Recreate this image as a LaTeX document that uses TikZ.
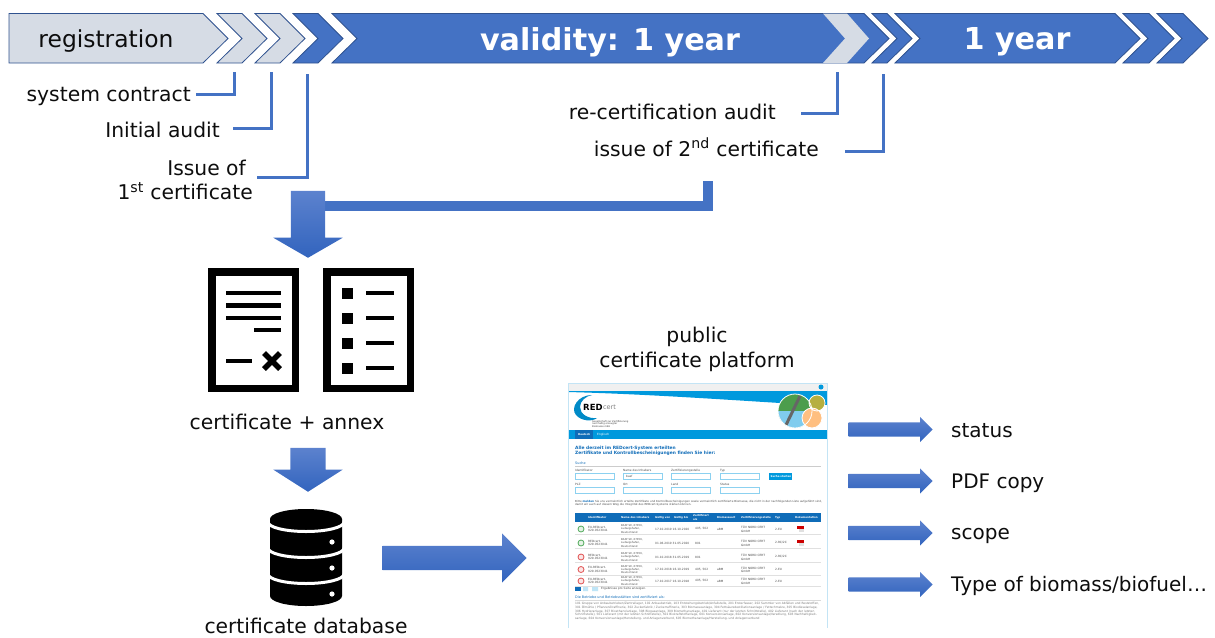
\documentclass[tikz,border=0pt]{standalone}
\usepackage{fontspec}
\setmainfont{DejaVu Sans}
\usetikzlibrary{shapes.arrows, positioning}
\definecolor{blue1}{RGB}{68, 114, 196}
\definecolor{blue2}{RGB}{47, 82, 143}
\definecolor{blue3}{RGB}{92, 130, 206}
\definecolor{blue4}{RGB}{50, 100, 190}
\definecolor{light1}{RGB}{214, 220, 229}
\definecolor{sky1}{RGB}{0, 153, 221}
\definecolor{navy1}{RGB}{15, 108, 184}
\definecolor{rim1}{RGB}{195, 228, 245}
\definecolor{grey1}{RGB}{120, 120, 120}
\definecolor{okay1}{RGB}{80, 170, 90}
\definecolor{stop1}{RGB}{225, 80, 80}
\newcommand{\fs}[1]{\fontsize{#1}{\dimexpr#1pt*6/5\relax}\selectfont}

\begin{document}
\begin{tikzpicture}[x=1pt, y=-1pt,
    chev/.style={draw=blue2, line width=0.8pt, fill=blue1},
    elbow/.style={draw=blue1, line width=3pt},
    lbl/.style={inner sep=0pt, font=\fs{20.3}, text=black!95},
    bigw/.style={inner sep=0pt, font=\fs{30.2}\bfseries, text=white},
    blockarrow/.style={single arrow, draw=none, top color=blue3, bottom color=blue4, anchor=tip},
    doc/.style={draw=black, line width=7.5pt, fill=white},
    stroke/.style={draw=black, line width=4.5pt},
    web/.style={inner sep=0pt, anchor=west, font=\fs{2.9}, text=black!70},
    webb/.style={inner sep=0pt, anchor=west, font=\fs{2.6}\bfseries, text=white},
    field/.style={draw=sky1!45, line width=0.7pt, fill=white}]
    \useasboundingbox (0,0) rectangle (1215,637);

    \draw[chev, fill=light1] (9,13.5) -- (203,13.5) -- (228,38.5) -- (203,63) -- (9,63) -- cycle;
    \foreach \xa/\xb/\col in {217/242/light1, 255/280/light1, 293/318/blue1, 332/864/blue1, 872/887/blue1, 895/1115/blue1, 1123/1149/blue1, 1157/1183/blue1}
        \draw[chev, fill=\col] (\xa,13.5) -- (\xb,13.5) -- ++(25,25) -- (\xb,63) -- (\xa,63) -- ++(25,-24.5) -- cycle;
    \draw[fill=light1, draw=none] (823,13.5) -- (847,13.5) -- (869,38.5) -- (847,63) -- (823,63) -- (845,38.5) -- cycle;

    \node[lbl, font=\fs{23.4}] (registration) at (106,41) {registration};
    \node[bigw] (validity) at (610,42) {validity: 1 year};
    \node[bigw] (renewal) at (1017,42) {1 year};

    \coordinate (tick1) at (234,72);
    \coordinate (tick2) at (271,72);
    \coordinate (tick3) at (307,74);
    \coordinate (tick4) at (837,72);
    \coordinate (tick5) at (883,74);
    \node[lbl, anchor=east] (contract) at (191,96) {system contract};
    \node[lbl, anchor=east] (initial) at (220,130) {Initial audit};
    \node[lbl, anchor=east, align=right] (first) at (253,180) {Issue of\rule{7pt}{0pt}\\1\textsuperscript{st} certificate};
    \node[lbl, anchor=east] (recert) at (776,112) {re-certification audit};
    \node[lbl, anchor=east] (second) at (819,147) {issue of 2\textsuperscript{nd} certificate};
    \draw[elbow] ([xshift=5pt,yshift=2pt]contract.east) -| (tick1);
    \draw[elbow] ([xshift=13pt,yshift=2pt]initial.east) -| (tick2);
    \draw[elbow] ([xshift=4pt,yshift=3pt]first.east) -| (tick3);
    \draw[elbow] ([xshift=25pt,yshift=-1pt]recert.east) -| (tick4);
    \draw[elbow] ([xshift=26pt,yshift=-4pt]second.east) -| (tick5);

    \coordinate (barstart) at (320,205.5);
    \coordinate (barend) at (708,181);
    \draw[draw=blue1, line width=10pt] (barstart) -| (barend);
    \node[blockarrow, shape border rotate=270, inner xsep=17pt, inner ysep=0pt, minimum height=67pt, minimum width=69pt, single arrow head extend=17.5pt, single arrow tip angle=120] (arrowcert) at (308,258) {};

    \draw[doc] (211.75,271.75) rectangle (295.25,388.25);
    \draw[doc] (326.75,271.75) rectangle (410.25,388.25);
    \foreach \y in {293,305.5,318}
        \draw[stroke] (226,\y) -- (281,\y);
    \draw[stroke] (254,330) -- (281,330);
    \draw[stroke] (226,361) -- (251.5,361);
    \draw[draw=black, line width=5.5pt] (264,353) -- (280,369) (280,353) -- (264,369);
    \foreach \y in {293,318,343,368} {
        \fill[black] (342,\y-5.5) rectangle (353,\y+5.5);
        \draw[stroke] (366,\y) -- (394,\y);
    }
    \node[lbl] (annex) at (287,422) {certificate + annex};

    \node[blockarrow, shape border rotate=270, inner xsep=17.5pt, inner ysep=0pt, minimum height=44pt, minimum width=69pt, single arrow head extend=17pt, single arrow tip angle=115] (arrowdb) at (308,492) {};

    \fill[black] (270,519) -- (342,519) -- (342,596) arc[start angle=0, end angle=180, x radius=36, y radius=10] -- cycle;
    \fill[black] (306,519) circle[x radius=36, y radius=10];
    \foreach \y in {522,548,574}
        \draw[draw=white, line width=3pt] (268,\y) arc[start angle=180, end angle=0, x radius=38, y radius=9.5];
    \foreach \y in {542,568,594}
        \fill[white] (332,\y) circle[radius=2.6];
    \node[lbl] (database) at (306,625.5) {certificate database};

    \node[blockarrow, inner xsep=0pt, inner ysep=12pt, minimum height=144pt, minimum width=49pt, single arrow head extend=12.5pt, single arrow tip angle=90] (arrowweb) at (527,558) {};

    \node[lbl, align=center] (platform) at (697,349.5) {public\\certificate platform};

    \fill[white] (568,383) rectangle (827,628);
    \fill[black!6] (568,383) rectangle (827,391);
    \fill[sky1] (821,387) circle[radius=2.5];
    \fill[sky1] (568,391) -- (827,391) -- (827,405) -- (780,403) .. controls (700,398) and (640,394) .. (568,392) -- cycle;
    \fill[sky1!90!black] (592,395) .. controls (578,395) and (570,408) .. (576,415)
        .. controls (581,421) and (592,422) .. (597,418) .. controls (588,419) and (580,414) .. (580,407)
        .. controls (580,401) and (586,396) .. (592,395) -- cycle;
    \node[web, font=\fs{8.5}\bfseries, text=black] (redlogo) at (583,407) {RED};
    \node[web, font=\fs{6.5}, text=black!50, right=0pt of redlogo] (certlogo) {cert};
    \node[web, font=\fs{2.4}, align=left, text=black!75] (company) at (592,424) {Gesellschaft zur Zertifizierung\\nachhaltig erzeugter\\Biomasse mbH};
    \fill[green!45!black!70] (795,411) circle[radius=17];
    \fill[sky1!50] (778,411) arc[start angle=180, end angle=0, radius=17] -- cycle;
    \draw[black!60, line width=3pt] (786,425) -- (800,396);
    \fill[olive!65] (817,403) circle[radius=8];
    \fill[orange!50!white] (812,418) circle[radius=10];
    \draw[white, line width=0.8pt] (795,411) circle[radius=17] (817,403) circle[radius=8] (812,418) circle[radius=10];

    \fill[sky1] (568,430) rectangle (827,439);
    \fill[navy1] (575,430) rectangle (593,439);
    \node[webb] (tabde) at (578,434.5) {Deutsch};
    \node[web, text=white] (tabeng) at (597,434.5) {Englisch};
    \node[web, font=\fs{4.4}\bfseries, text=navy1, align=left] (headline) at (575,450.5) {Alle derzeit im REDcert-System erteilten\\Zertifikate und Kontrollbescheinigungen finden Sie hier:};
    \node[web, font=\fs{3.4}, text=navy1] (search) at (575,463) {Suche};
    \draw[black!20, line width=0.5pt] (575,466) -- (821,466);
    \foreach \x/\upper/\lower in {575/Identifikator/PLZ, 623/Name des Inhabers/Ort, 671/Zertifizierungsstelle/Land, 720/Typ/Status} {
        \node[web] (top\x) at (\x,470.5) {\upper};
        \node[web] (bot\x) at (\x,484.5) {\lower};
        \draw[field] (\x,473) rectangle ++(39.5,6.5);
        \draw[field] (\x,487) rectangle ++(39.5,6.5);
    }
    \node[web] (query) at (626,476.3) {basf};
    \fill[sky1] (769,473) rectangle (792,479.5);
    \node[webb] (searchbtn) at (770.5,476.3) {Suche starten};
    \node[web, font=\fs{2.75}, text width=247pt, align=left] (notice) at (575,503) {Bitte \textcolor{navy1}{\textbf{melden}} Sie uns vermeintlich erteilte Zertifikate und Kontrollbescheinigungen sowie vermeintlich zertifizierte Biomasse, die nicht in der nachfolgenden Liste aufgeführt sind, damit wir auch auf diesem Weg die Integrität des REDcert-Systems stärken können.};

    \fill[navy1] (575,513) rectangle (821,522);
    \foreach \x/\head in {588/Identifikator, 621/Name des Inhabers, 655/Gültig von, 674/Gültig bis, 717/Biomasseart, 741/Zertifizierungsstelle, 775/Typ, 795/Dokumentation}
        \node[webb] (col\x) at (\x,517.5) {\head};
    \node[webb, align=left] (colas) at (693,517.5) {Zertifiziert\\als};
    \foreach \n/\y/\col/\id/\dt/\scp/\bm/\ty in {1/529/okay1/EU-REDcert-/17.10.2019 16.10.2020/{405, 502}/aBM/2-EU,
        2/543/okay1/REDcert-/01.06.2019 31.05.2020/801//{2-RC/2C},
        3/557/stop1/REDcert-/01.10.2018 31.05.2019/801//{2-RC/2C},
        4/569.5/stop1/EU-REDcert-/17.10.2018 16.10.2019/{405, 502}/aBM/2-EU,
        5/581/stop1/EU-REDcert-/17.10.2017 16.10.2018/{405, 502}/aBM/2-EU} {
        \draw[\col, line width=0.8pt, fill=\col!15] (581,\y) circle[radius=3];
        \node[web, align=left] (rid\n) at (588,\y) {\id\\929-0523041};
        \node[web, font=\fs{2.6}, align=left] (rname\n) at (621,\y) {BASF SE, 67056,\\Ludwigshafen,\\Deutschland};
        \node[web] (rdate\n) at (655,\y) {\dt};
        \node[web] (rscope\n) at (695,\y) {\scp};
        \node[web] (rbio\n) at (717,\y) {\bm};
        \node[web, align=left] (rbody\n) at (741,\y) {TÜV NORD CERT\\GmbH};
        \node[web] (rtype\n) at (775,\y) {\ty};
        \draw[black!12, line width=0.4pt] (575,\y+5.5) -- (821,\y+5.5);
    }
    \foreach \y in {529,543} {
        \fill[red!80!black] (797,\y-3) rectangle (804,\y);
        \fill[black!12] (799,\y) rectangle (804,\y+3);
    }
    \fill[navy1] (575,587) rectangle (581,591);
    \fill[sky1!25] (583,587) rectangle (588,591) (592,587) rectangle (598,591);
    \node[web] (perpage) at (601,589) {Ergebnisse pro Seite anzeigen.};
    \node[web, font=\fs{3.4}, text=navy1] (sites) at (575,597) {Die Betriebe und Betriebsstätten sind zertifiziert als:};
    \draw[black!15, line width=0.5pt] (575,600.5) -- (821,600.5);
    \node[web, anchor=north west, font=\fs{2.95}, text width=247pt, align=left, text=grey1] (kinds) at (575,602.5) {101 Gruppe von Anbaubetrieben/Zentrallager, 102 Anbaubetrieb, 103 Entstehungsbetrieb/Anfallstelle, 201 Ersterfasser, 202 Sammler von Abfällen und Reststoffen, 301 Ölmühle / Pflanzenölraffinerie, 302 Zuckerfabrik / Zuckerraffinerie, 303 Biomasseanlage, 304 Fettsäuredestillationsanlage / Fettschmelze, 305 Biodieselanlage, 306 Hydrieranlage, 307 Bioethanolanlage, 308 Biogasanlage, 309 Biomethananlage, 401 Lieferant (nur der letzten Schnittstelle), 402 Lieferant (nach der letzten Schnittstelle), 501 Lieferant (mit der letzten Schnittstelle), 502 Biokraftstoffanlage, 601 Konversionsanlage, 602 Konversionsanlage/Veredlung, 603 Nachhaltigkeitsanlage, 604 Konversionsanlage/Herstellung- und Anlagenverbund, 605 Biomethananlage/Herstellung- und Anlagenverbund};
    \draw[rim1, line width=1pt] (568,628) -- (568,383) -- (827,383) -- (827,628);

    \foreach \y/\ty/\txt/\nm in {429.5/430.5/status/stat, 481/483/PDF copy/pdf, 533/536/scope/scop, 584.5/585.5/{Type of biomass\slash biofuel\ldots}/type} {
        \node[blockarrow, inner xsep=0pt, inner ysep=7pt, minimum height=84pt, minimum width=25pt, single arrow head extend=5.5pt, single arrow tip angle=90] (arrow\nm) at (933,\y) {};
        \node[lbl, anchor=west, font=\fs{20}] (\nm) at (951,\ty) {\txt};
    }
\end{tikzpicture}
\end{document}
